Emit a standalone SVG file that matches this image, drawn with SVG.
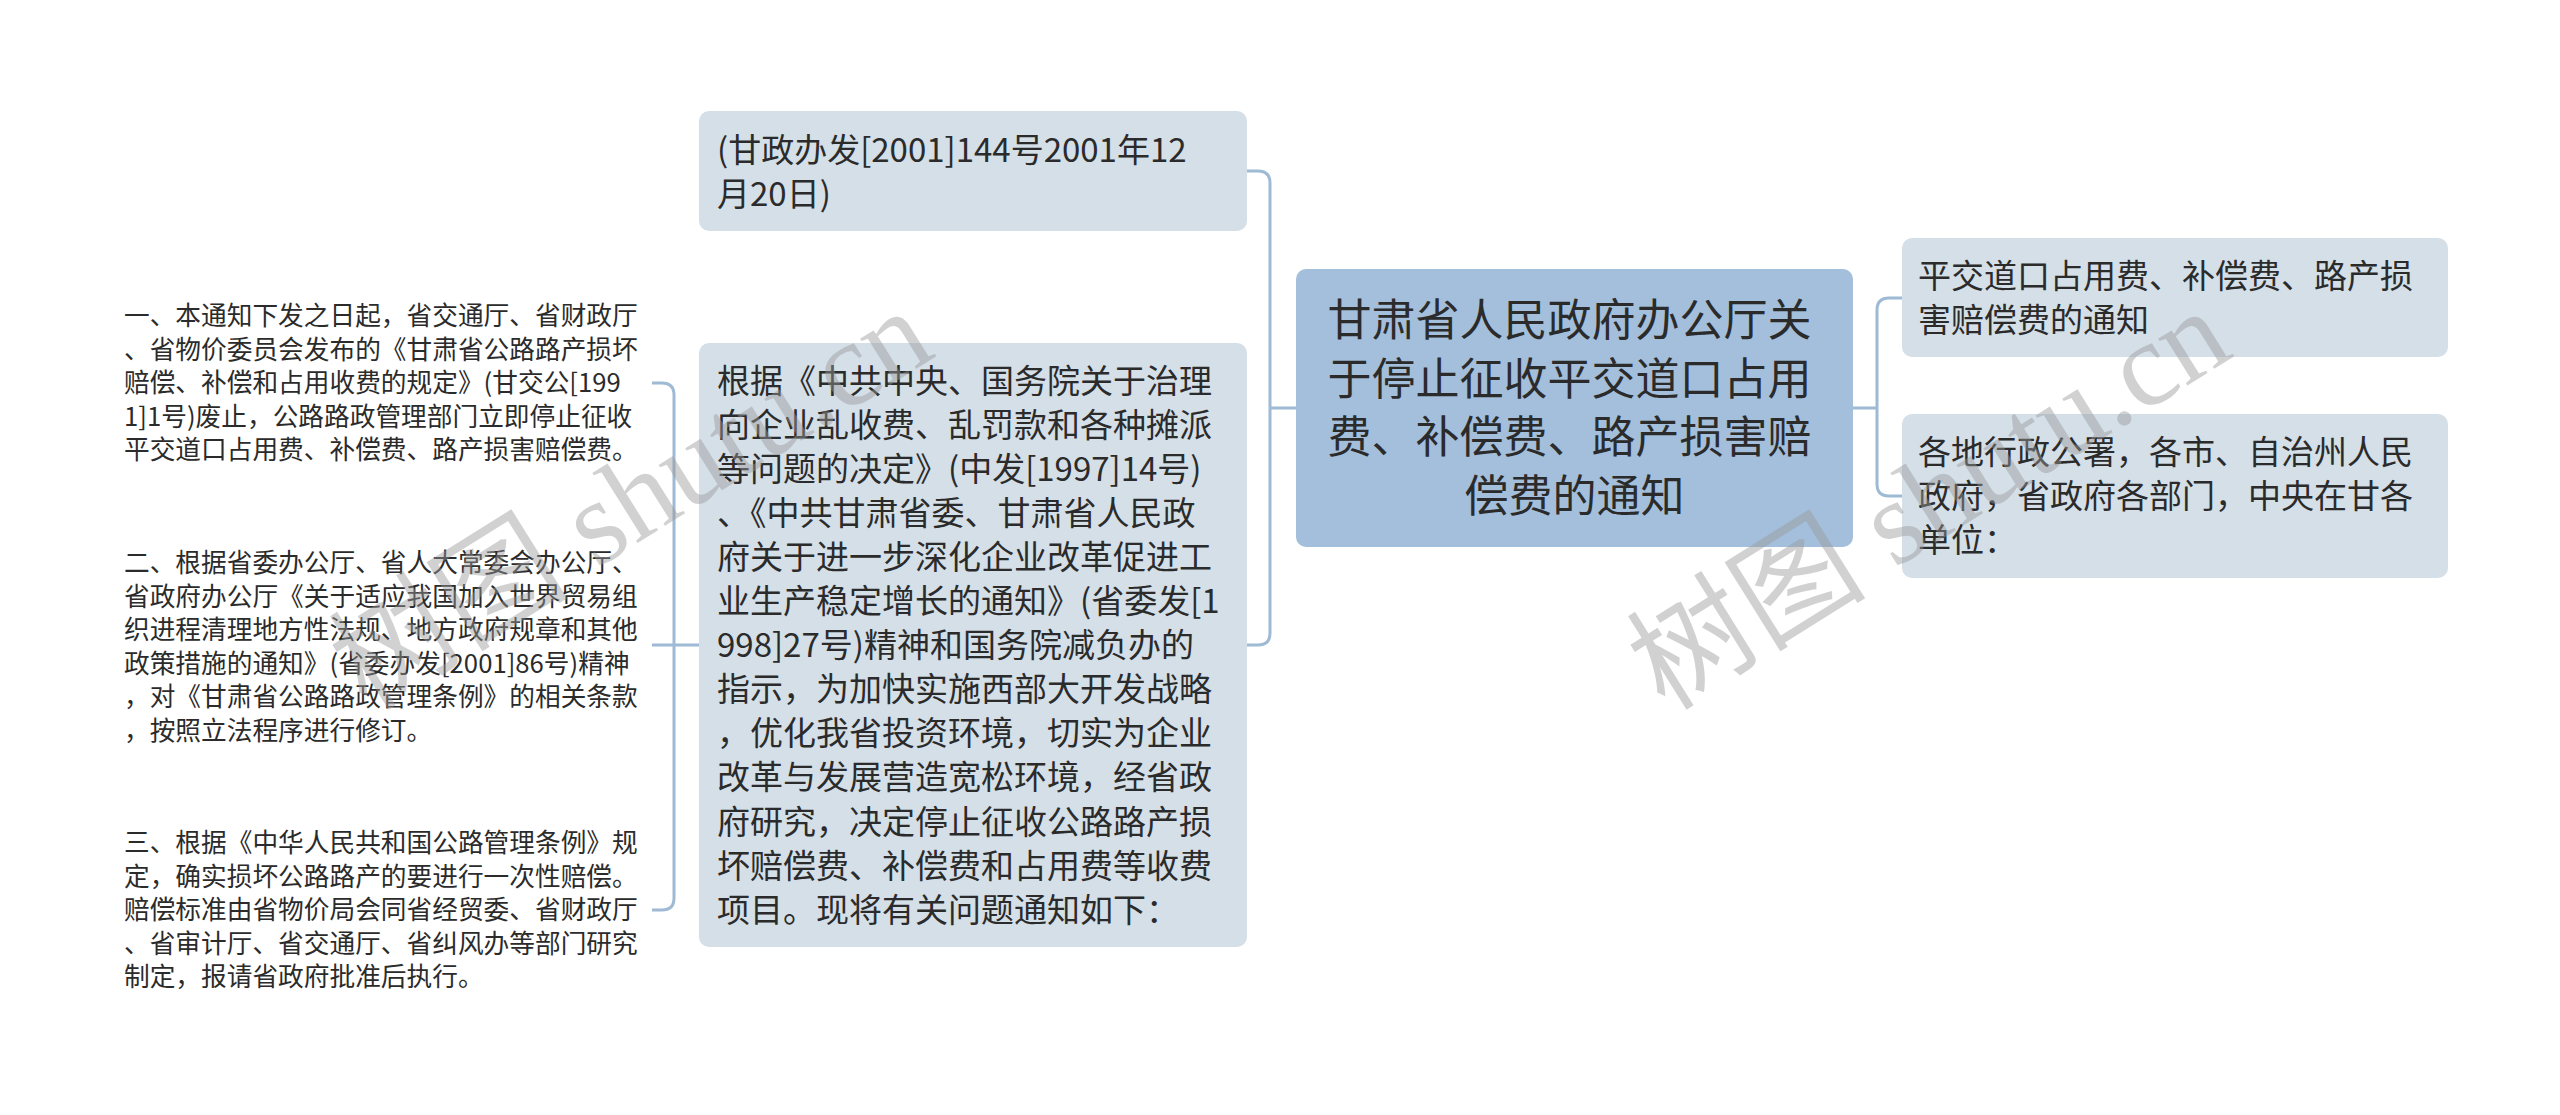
<svg xmlns="http://www.w3.org/2000/svg" width="2560" height="1115" viewBox="0 0 2560 1115">
<style>
.bg{fill:#ffffff}
.root{fill:#a3bfdb}
.sub{fill:#d4dfe8}
.t{font-family:"Noto Sans CJK SC","Noto Sans",sans-serif;fill:#2b2b2b}
.t33{font-size:33px}
.t44{font-size:44px}
.t26{font-size:25.7px}
.conn{fill:none;stroke:#9ebad4;stroke-width:3}
.wm{font-family:"Liberation Serif","Noto Sans CJK SC",serif;font-size:120px;fill:#9a9a9a;fill-opacity:0.45}
</style>
<rect class="bg" x="0" y="0" width="2560" height="1115"/>
<g id="connectors">
<path class="conn" d="M1296 408 H1270"/>
<path class="conn" d="M1247 171 H1258 Q1270 171 1270 183 V633 Q1270 645 1258 645 H1247"/>
<path class="conn" d="M1853 408 H1877"/>
<path class="conn" d="M1902 298 H1889 Q1877 298 1877 310 V484 Q1877 496 1889 496 H1902"/>
<path class="conn" d="M699 645 H652"/>
<path class="conn" d="M652 383 H662 Q674 383 674 395 V898 Q674 910 662 910 H652"/>
</g>
<g id="node-root">
<rect class="root" x="1296" y="269" width="557" height="278" rx="10"/>
<text class="t t44" text-anchor="middle">
<tspan x="1574.5" y="336">甘肃省人民政府办公厅关</tspan>
<tspan x="1574.5" y="394.5">于停止征收平交道口占用</tspan>
<tspan x="1574.5" y="453">费、补偿费、路产损害赔</tspan>
<tspan x="1574.5" y="511.5">偿费的通知</tspan>
</text>
</g>
<g id="node-doc-number">
<rect class="sub" x="699" y="111" width="548" height="120" rx="10"/>
<text class="t t33">
<tspan x="717" y="161.5">(甘政办发[2001]144号2001年12</tspan>
<tspan x="717" y="205.6">月20日)</tspan>
</text>
</g>
<g id="node-preamble">
<rect class="sub" x="699" y="343" width="548" height="604" rx="10"/>
<text class="t t33">
<tspan x="717" y="392.5">根据《中共中央、国务院关于治理</tspan>
<tspan x="717" y="436.6">向企业乱收费、乱罚款和各种摊派</tspan>
<tspan x="717" y="480.7">等问题的决定》(中发[1997]14号)</tspan>
<tspan x="717" y="524.8">、《中共甘肃省委、甘肃省人民政</tspan>
<tspan x="717" y="568.9">府关于进一步深化企业改革促进工</tspan>
<tspan x="717" y="613">业生产稳定增长的通知》(省委发[1</tspan>
<tspan x="717" y="657.1">998]27号)精神和国务院减负办的</tspan>
<tspan x="717" y="701.2">指示，为加快实施西部大开发战略</tspan>
<tspan x="717" y="745.3">，优化我省投资环境，切实为企业</tspan>
<tspan x="717" y="789.4">改革与发展营造宽松环境，经省政</tspan>
<tspan x="717" y="833.5">府研究，决定停止征收公路路产损</tspan>
<tspan x="717" y="877.6">坏赔偿费、补偿费和占用费等收费</tspan>
<tspan x="717" y="921.7">项目。现将有关问题通知如下：</tspan>
</text>
</g>
<g id="node-title">
<rect class="sub" x="1902" y="238" width="546" height="119" rx="10"/>
<text class="t t33">
<tspan x="1918" y="287.5">平交道口占用费、补偿费、路产损</tspan>
<tspan x="1918" y="331.6">害赔偿费的通知</tspan>
</text>
</g>
<g id="node-recipients">
<rect class="sub" x="1902" y="414" width="546" height="164" rx="10"/>
<text class="t t33">
<tspan x="1918" y="464">各地行政公署，各市、自治州人民</tspan>
<tspan x="1918" y="508.1">政府，省政府各部门，中央在甘各</tspan>
<tspan x="1918" y="552.2">单位：</tspan>
</text>
</g>
<g id="node-item-1">
<text class="t t26">
<tspan x="124" y="325.3">一、本通知下发之日起，省交通厅、省财政厅</tspan>
<tspan x="124" y="358.8">、省物价委员会发布的《甘肃省公路路产损坏</tspan>
<tspan x="124" y="392.3">赔偿、补偿和占用收费的规定》(甘交公[199</tspan>
<tspan x="124" y="425.8">1]1号)废止，公路路政管理部门立即停止征收</tspan>
<tspan x="124" y="459.3">平交道口占用费、补偿费、路产损害赔偿费。</tspan>
</text>
</g>
<g id="node-item-2">
<text class="t t26">
<tspan x="124" y="572.3">二、根据省委办公厅、省人大常委会办公厅、</tspan>
<tspan x="124" y="605.8">省政府办公厅《关于适应我国加入世界贸易组</tspan>
<tspan x="124" y="639.3">织进程清理地方性法规、地方政府规章和其他</tspan>
<tspan x="124" y="672.8">政策措施的通知》(省委办发[2001]86号)精神</tspan>
<tspan x="124" y="706.3">，对《甘肃省公路路政管理条例》的相关条款</tspan>
<tspan x="124" y="739.8">，按照立法程序进行修订。</tspan>
</text>
</g>
<g id="node-item-3">
<text class="t t26">
<tspan x="124" y="852.3">三、根据《中华人民共和国公路管理条例》规</tspan>
<tspan x="124" y="885.8">定，确实损坏公路路产的要进行一次性赔偿。</tspan>
<tspan x="124" y="919.3">赔偿标准由省物价局会同省经贸委、省财政厅</tspan>
<tspan x="124" y="952.8">、省审计厅、省交通厅、省纠风办等部门研究</tspan>
<tspan x="124" y="986.3">制定，报请省政府批准后执行。</tspan>
</text>
</g>
<g id="watermark">
<text class="wm" transform="translate(367 712) rotate(-32)">树图 shutu.cn</text>
<text class="wm" transform="translate(1665 712) rotate(-32)">树图 shutu.cn</text>
</g>
</svg>
